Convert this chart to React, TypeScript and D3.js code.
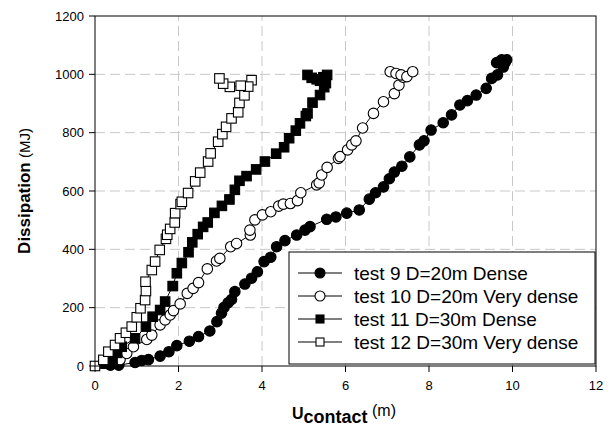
import React from 'react';
import * as d3 from 'd3';

// U_contact (m), Dissipation (MJ)
const test9: [number, number][] = [
  [0.37, 3], [0.57, 3], [0.96, 12], [1.12, 19], [1.28, 22], [1.56, 34], [1.77, 49], [1.96, 70],
  [2.26, 85], [2.48, 101], [2.75, 120], [2.92, 152], [3.03, 181], [3.09, 201], [3.19, 217],
  [3.27, 228], [3.35, 255], [3.59, 281], [3.75, 301], [3.89, 323], [4.05, 358], [4.21, 373],
  [4.35, 409], [4.55, 430], [4.83, 449], [5.03, 466], [5.15, 478], [5.55, 503], [5.77, 511],
  [6.03, 524], [6.33, 535], [6.57, 572], [6.72, 594], [6.91, 614], [7.05, 642], [7.17, 665],
  [7.35, 685], [7.54, 717], [7.77, 758], [7.88, 772], [8.05, 809], [8.34, 834], [8.54, 861],
  [8.74, 895], [8.92, 910], [9.13, 929], [9.37, 952], [9.5, 986], [9.64, 998], [9.78, 1025],
  [9.82, 1040], [9.62, 1040], [9.74, 1050], [9.86, 1050],
];
const test10: [number, number][] = [
  [0.6, 22], [0.76, 43], [0.92, 66], [1.24, 91], [1.36, 106], [1.56, 141], [1.68, 158], [1.8, 175],
  [1.88, 190], [2.04, 213], [2.21, 249], [2.35, 266], [2.48, 286], [2.69, 333], [2.91, 360],
  [2.99, 369], [3.25, 409], [3.39, 420], [3.72, 449], [3.71, 466], [3.83, 501], [4.01, 518],
  [4.21, 529], [4.4, 548], [4.51, 555], [4.68, 557], [4.85, 567], [4.93, 594], [5.31, 621],
  [5.37, 628], [5.43, 655], [5.56, 681], [5.83, 712], [5.87, 718], [6.05, 741], [6.15, 758],
  [6.25, 772], [6.41, 816], [6.67, 866], [6.91, 906], [7.17, 934], [7.28, 963], [7.38, 990],
  [7.07, 1009], [7.21, 1003], [7.33, 998], [7.47, 992], [7.61, 1009],
];
const test11: [number, number][] = [
  [0.25, 8], [0.42, 22], [0.53, 45], [0.64, 66], [0.96, 95], [1.22, 135], [1.38, 169], [1.56, 192],
  [1.68, 221], [1.86, 274], [1.96, 318], [2.08, 353], [2.24, 390], [2.33, 424], [2.46, 452],
  [2.59, 477], [2.7, 492], [2.86, 525], [3.04, 549], [3.22, 571], [3.35, 604], [3.46, 635],
  [3.63, 651], [3.86, 674], [4.07, 701], [4.34, 728], [4.53, 750], [4.65, 781], [4.81, 807],
  [4.91, 832], [5.05, 857], [5.09, 866], [5.21, 903], [5.39, 929], [5.49, 956], [5.53, 970],
  [5.09, 998], [5.19, 988], [5.31, 983], [5.39, 978], [5.47, 990], [5.56, 998],
];
const test12: [number, number][] = [
  [0, 0], [0.2, 21], [0.32, 49], [0.48, 72], [0.6, 95], [0.74, 114], [0.88, 135], [1.0, 167],
  [1.09, 198], [1.2, 226], [1.22, 257], [1.21, 289], [1.36, 329], [1.44, 358], [1.55, 398],
  [1.7, 436], [1.73, 450], [1.8, 470], [1.91, 492], [1.92, 524], [2.05, 555], [2.08, 563],
  [2.23, 593], [2.4, 633], [2.52, 663], [2.71, 701], [2.77, 729], [2.95, 769], [3.05, 795],
  [3.14, 820], [3.27, 849], [3.43, 870], [3.46, 902], [3.58, 928], [3.75, 980], [3.67, 958],
  [3.49, 961], [3.23, 957], [3.07, 968], [2.98, 986],
];

const seriesNames = [
  'test 9 D=20m Dense',
  'test 10 D=20m Very dense',
  'test 11 D=30m Dense',
  'test 12 D=30m Very dense',
];
const seriesData = [test9, test10, test11, test12];
const markerKinds = ['filledCircle', 'openCircle', 'filledSquare', 'openSquare'];

const xTicks = [0, 2, 4, 6, 8, 10, 12];
const yTicks = [0, 200, 400, 600, 800, 1000, 1200];

const FONT = '"Liberation Sans", Arial, Helvetica, sans-serif';

const Marker = ({ kind, x, y, size }: { kind: string; x: number; y: number; size: number }) => {
  const filled = kind.startsWith('filled');
  const fill = filled ? '#000' : '#fff';
  if (kind.endsWith('Circle')) {
    return <circle cx={x} cy={y} r={size / 2} fill={fill} stroke="#000" strokeWidth={1.1} />;
  }
  return (
    <rect x={x - size / 2} y={y - size / 2} width={size} height={size} fill={fill} stroke="#000" strokeWidth={1.1} />
  );
};

export default function App() {
  const width = 613;
  const height = 430;
  const x = d3.scaleLinear().domain([0, 12]).range([95, 596]);
  const y = d3.scaleLinear().domain([0, 1200]).range([366, 16]);
  const line = d3.line<[number, number]>().x(d => x(d[0])).y(d => y(d[1]));

  const legend = { x: 289, y: 252, w: 306, h: 112 };

  return (
    <div style={{ position: 'absolute', left: 0, top: 0 }}>
      <svg width={width} height={height} style={{ display: 'block', background: '#fff' }}>
        {/* grid */}
        <g stroke="#c8c8c8" strokeWidth={1} strokeDasharray="10,5">
          {xTicks.slice(1, -1).map(t => (
            <line key={'gx' + t} x1={x(t)} x2={x(t)} y1={y(0)} y2={y(1200)} />
          ))}
          {yTicks.slice(1, -1).map(t => (
            <line key={'gy' + t} x1={x(0)} x2={x(12)} y1={y(t)} y2={y(t)} />
          ))}
        </g>

        {/* series */}
        {seriesData.map((data, i) => (
          <g key={seriesNames[i]}>
            <path d={line(data) || ''} fill="none" stroke="#000" strokeWidth={1} />
            {data.map((d, j) => (
              <Marker key={j} kind={markerKinds[i]} x={x(d[0])} y={y(d[1])} size={markerKinds[i].endsWith('Circle') ? 10.5 : 9.5} />
            ))}
          </g>
        ))}

        {/* frame */}
        <rect x={x(0)} y={y(1200)} width={x(12) - x(0)} height={y(0) - y(1200)} fill="none" stroke="#000" strokeWidth={1} />

        {/* ticks */}
        <g stroke="#000" strokeWidth={1}>
          {xTicks.map(t => (
            <line key={'tx' + t} x1={x(t)} x2={x(t)} y1={y(0)} y2={y(0) + 6} />
          ))}
          {yTicks.map(t => (
            <line key={'ty' + t} x1={x(0) - 6} x2={x(0)} y1={y(t)} y2={y(t)} />
          ))}
        </g>
        <g fontFamily={FONT} fontSize={13} fill="#000">
          {xTicks.map(t => (
            <text key={'lx' + t} x={x(t)} y={y(0) + 24} textAnchor="middle">{t}</text>
          ))}
          {yTicks.map(t => (
            <text key={'ly' + t} x={x(0) - 11} y={y(t) + 4.5} textAnchor="end">{t}</text>
          ))}
        </g>

        {/* legend */}
        <rect x={legend.x} y={legend.y} width={legend.w} height={legend.h} fill="#fff" stroke="#000" strokeWidth={1} />
        {seriesNames.map((name, i) => {
          const ly = legend.y + 21 + i * 23;
          return (
            <g key={'lg' + name}>
              <line x1={298} x2={342} y1={ly} y2={ly} stroke="#000" strokeWidth={1} />
              <Marker kind={markerKinds[i]} x={320} y={ly} size={markerKinds[i].endsWith('Circle') ? 10 : 8} />
              <text x={354} y={ly + 7} fontFamily={FONT} fontSize={19}>{name}</text>
            </g>
          );
        })}

        {/* axis titles */}
        <text x={344} y={419} textAnchor="middle" fontFamily={FONT}>
          <tspan fontSize={16} fontWeight="bold">U</tspan>
          <tspan fontSize={18} fontWeight="bold" dy={4}>contact</tspan>
          <tspan fontSize={16} dy={-7}> (m)</tspan>
        </text>
        <text transform="translate(30,191) rotate(-90)" textAnchor="middle" fontFamily={FONT}>
          <tspan fontSize={17} fontWeight="bold">Dissipation</tspan>
          <tspan fontSize={15}> (MJ)</tspan>
        </text>
      </svg>
    </div>
  );
}
